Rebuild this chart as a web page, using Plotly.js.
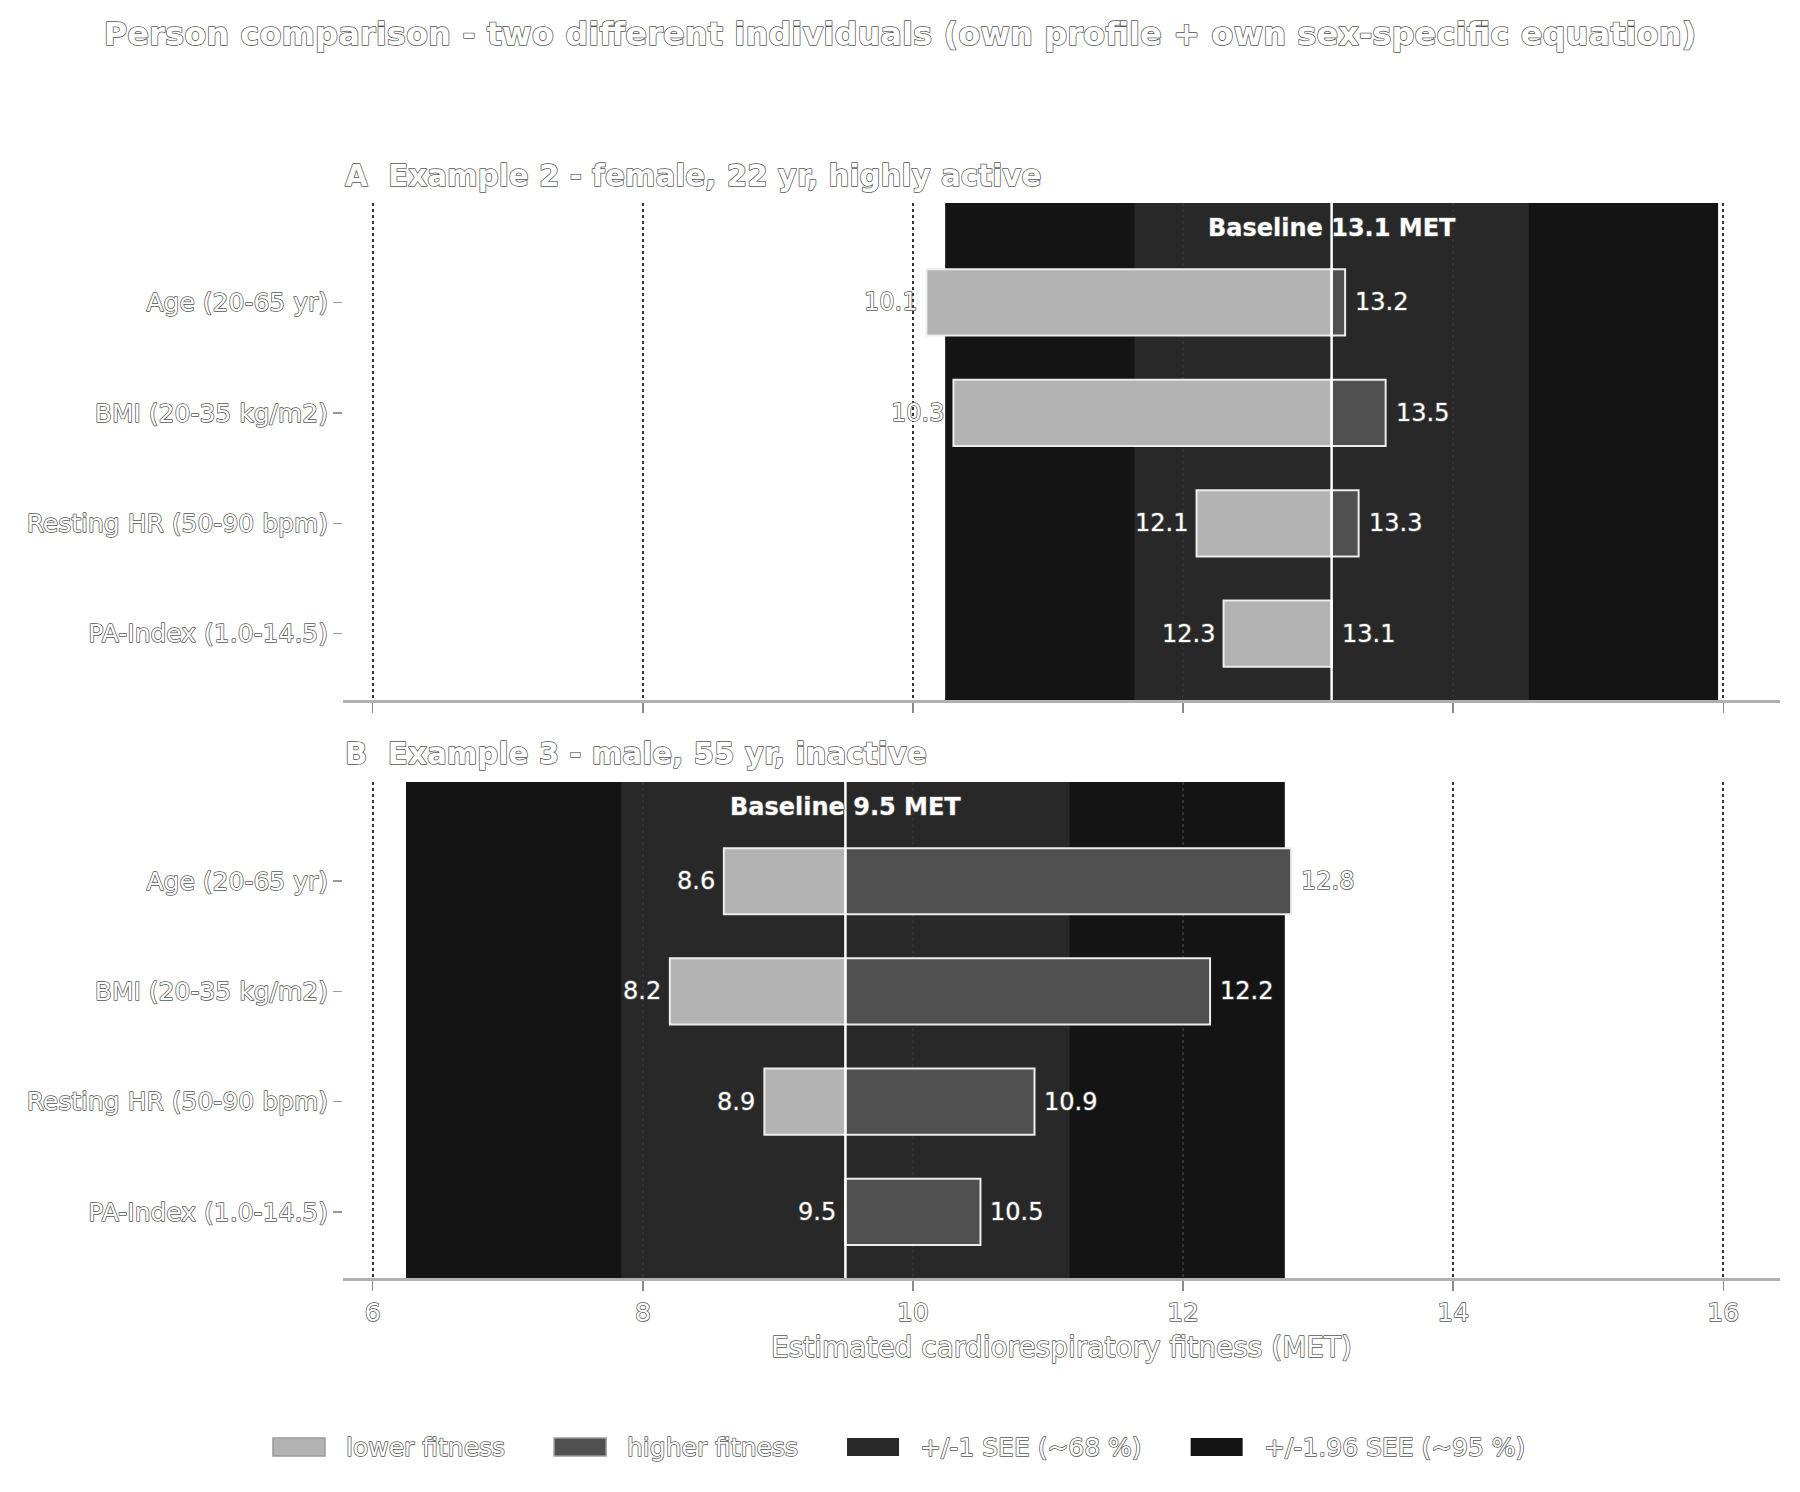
<!DOCTYPE html>
<html>
<head>
<meta charset="utf-8">
<script src="https://cdn.plot.ly/plotly-3.0.1.min.js"></script>
<style>
  html, body { margin: 0; padding: 0; background: #ffffff; }
  /* white lettering with a thin grey contour */
  #chart svg text {
    stroke: #555555;
    stroke-width: 1.5px;
    paint-order: stroke fill;
    stroke-linejoin: round;
  }
</style>
</head>
<body>
<div id="chart" style="width:1800px;height:1492px;"></div>
<script>
// ---- data -------------------------------------------------------------
const predictors = ['Age (20-65 yr)', 'BMI (20-35 kg/m2)', 'Resting HR (50-90 bpm)', 'PA-Index (1.0-14.5)'];
const panelTitles = ['A  Example 2 - female, 22 yr, highly active', 'B  Example 3 - male, 55 yr, inactive'];
const baselineMET = [13.1, 9.5];      // predicted MET with the person's own profile
const seeMET = [1.46, 1.66];          // standard error of estimate per equation
const lowA = [10.1, 10.3, 12.1, 12.3];
const highA = [13.2, 13.5, 13.3, 13.1];
const lowB = [8.6, 8.2, 8.9, 9.5];
const highB = [12.8, 12.2, 10.9, 10.5];
const xTicks = [6, 8, 10, 12, 14, 16];
const xAxisTitle = 'Estimated cardiorespiratory fitness (MET)';
const mainTitle = 'Person comparison - two different individuals (own profile + own sex-specific equation)';
const legendLabels = ['lower fitness', 'higher fitness', '+/-1 SEE (~68 %)', '+/-1.96 SEE (~95 %)'];

// ---- styling ----------------------------------------------------------
const W = 1800, H = 1492;
const FONT = 'DejaVu Sans';
const colLow = '#b3b3b3', colHigh = '#505050', col68 = '#282828', col95 = '#141414';
const legendFill = [colLow, colHigh, col68, col95];
const xDomain = [343 / W, 1780 / W];
const yDomains = [[1 - 700 / H, 1 - 203 / H], [1 - 1278 / H, 1 - 782 / H]];
const panelTitleY = [1 - 176 / H, 1 - 754 / H];
const xRange = [5.78, 16.42];

const lows = [lowA, lowB];
const highs = [highA, highB];

const traces = [];
const shapes = [];
const annotations = [];

for (let p = 0; p < 2; p++) {
  const xa = p === 0 ? 'x' : 'x2';
  const ya = p === 0 ? 'y' : 'y2';
  const base = baselineMET[p];
  const see = seeMET[p];

  // prediction bands around the baseline
  shapes.push({ type: 'rect', xref: xa, yref: ya + ' domain', x0: base - 1.96 * see, x1: base + 1.96 * see,
    y0: 0, y1: 1, fillcolor: col95, line: { width: 0 }, layer: 'below' });
  shapes.push({ type: 'rect', xref: xa, yref: ya + ' domain', x0: base - see, x1: base + see,
    y0: 0, y1: 1, fillcolor: col68, line: { width: 0 }, layer: 'below' });
  // baseline marker
  shapes.push({ type: 'line', xref: xa, yref: ya + ' domain', x0: base, x1: base, y0: 0, y1: 1,
    line: { color: '#ffffff', width: 2.5 }, layer: 'above' });

  // lower / higher fitness bars anchored at the baseline
  traces.push({
    type: 'bar', orientation: 'h', xaxis: xa, yaxis: ya,
    y: predictors, base: base, x: lows[p].map(v => v - base), width: 0.6,
    marker: { color: colLow, line: { color: '#ececec', width: 2 } },
    showlegend: false, hoverinfo: 'skip'
  });
  traces.push({
    type: 'bar', orientation: 'h', xaxis: xa, yaxis: ya,
    y: predictors, base: base, x: highs[p].map(v => v - base), width: 0.6,
    marker: { color: colHigh, line: { color: '#ececec', width: 2 } },
    showlegend: false, hoverinfo: 'skip'
  });

  // value labels at the bar ends
  predictors.forEach((name, i) => {
    annotations.push({ xref: xa, yref: ya, x: lows[p][i], y: name, text: lows[p][i].toFixed(1),
      showarrow: false, xanchor: 'right', xshift: -7, font: { family: FONT, size: 24, color: '#ffffff' } });
    annotations.push({ xref: xa, yref: ya, x: highs[p][i], y: name, text: highs[p][i].toFixed(1),
      showarrow: false, xanchor: 'left', xshift: 8, font: { family: FONT, size: 24, color: '#ffffff' } });
  });

  // baseline caption
  annotations.push({ xref: xa, yref: ya + ' domain', x: base, y: 0.95, yanchor: 'middle',
    text: '<b>Baseline ' + base.toFixed(1) + ' MET</b>', showarrow: false,
    font: { family: FONT, size: 24, color: '#ffffff' } });

  // panel heading
  annotations.push({ xref: 'paper', yref: 'paper', x: xDomain[0], y: panelTitleY[p], xanchor: 'left',
    yanchor: 'middle', text: '<b>' + panelTitles[p] + '</b>', showarrow: false,
    font: { family: FONT, size: 29.4, color: '#ffffff' } });
}

// ---- legend row, laid out from the measured label widths --------------
const ctx = document.createElement('canvas').getContext('2d');
ctx.font = '25px "' + FONT + '"';
const labelW = legendLabels.map(t => ctx.measureText(t).width);
const patchW = 52, patchH = 18, patchGap = 19, itemGap = 51;
const totalW = labelW.reduce((s, w) => s + patchW + patchGap + w, 0) + itemGap * (legendLabels.length - 1);
const legendCy = 1447;
let cursor = W / 2 - totalW / 2 - 2;
legendLabels.forEach((label, i) => {
  shapes.push({ type: 'rect', xref: 'paper', yref: 'paper',
    x0: cursor / W, x1: (cursor + patchW) / W,
    y0: 1 - (legendCy + patchH / 2) / H, y1: 1 - (legendCy - patchH / 2) / H,
    fillcolor: legendFill[i], line: { color: i < 2 ? '#9a9a9a' : legendFill[i], width: i < 2 ? 1.5 : 0 } });
  annotations.push({ xref: 'paper', yref: 'paper', x: (cursor + patchW + patchGap) / W, y: 1 - legendCy / H,
    xanchor: 'left', yanchor: 'middle', text: label, showarrow: false,
    font: { family: FONT, size: 25, color: '#ffffff' } });
  cursor += patchW + patchGap + labelW[i] + itemGap;
});

// ---- axes -------------------------------------------------------------
function xAxis(anchor, withLabels) {
  return {
    domain: xDomain, anchor: anchor, range: xRange, type: 'linear',
    tickmode: 'array', tickvals: xTicks, ticktext: xTicks.map(String),
    showticklabels: withLabels, ticks: 'outside', ticklen: 10, tickwidth: 1.5, tickcolor: '#8a8a8a',
    tickfont: { family: FONT, size: 25, color: '#ffffff' },
    showline: true, linecolor: '#b0b0b0', linewidth: 2.5,
    showgrid: true, gridcolor: '#333333', gridwidth: 2, griddash: 'dot',
    zeroline: false, fixedrange: true,
    title: withLabels ? { text: xAxisTitle, standoff: 12, font: { family: FONT, size: 28, color: '#ffffff' } } : { text: '' }
  };
}
function yAxis(anchor, dom) {
  return {
    domain: dom, anchor: anchor, type: 'category', range: [3.6, -0.9],
    ticks: 'outside', ticklen: 9, tickwidth: 1.5, tickcolor: '#9a9a9a',
    tickfont: { family: FONT, size: 25, color: '#ffffff' },
    showline: false, showgrid: false, zeroline: false, fixedrange: true
  };
}

const layout = {
  width: W, height: H,
  margin: { l: 0, r: 0, t: 0, b: 0 },
  paper_bgcolor: '#ffffff', plot_bgcolor: 'rgba(0,0,0,0)',
  font: { family: FONT, color: '#ffffff' },
  title: { text: '<b>' + mainTitle + '</b>', x: 0.5, xanchor: 'center', y: 1 - 34 / H, yanchor: 'middle',
    font: { family: FONT, size: 32.2, color: '#ffffff' } },
  barmode: 'overlay',
  showlegend: false,
  xaxis: xAxis('y', false),
  yaxis: yAxis('x', yDomains[0]),
  xaxis2: xAxis('y2', true),
  yaxis2: yAxis('x2', yDomains[1]),
  shapes: shapes,
  annotations: annotations
};

Plotly.newPlot('chart', traces, layout, { staticPlot: true, displayModeBar: false });
</script>
</body>
</html>
